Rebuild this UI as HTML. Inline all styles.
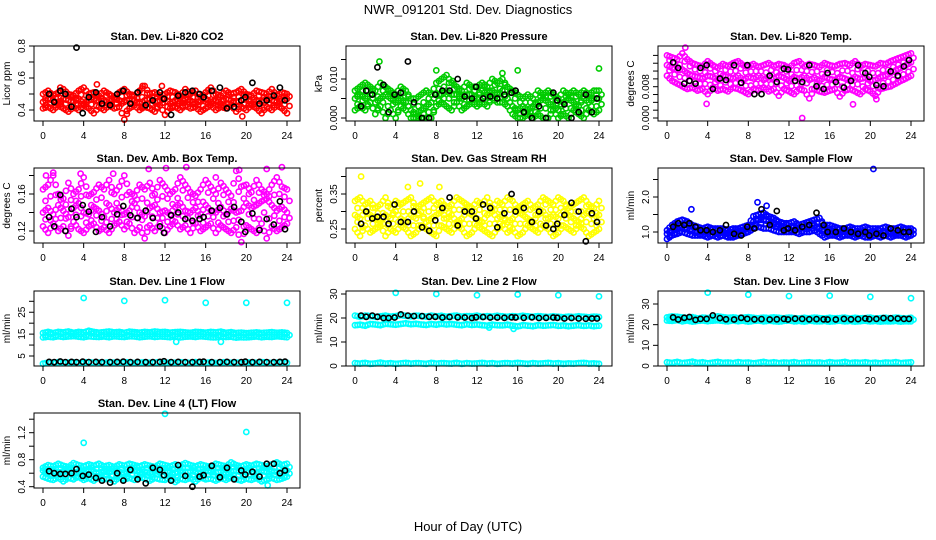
<!DOCTYPE html>
<html><head><meta charset="utf-8"><style>
body{margin:0;background:#fff;}
svg{display:block;font-family:"Liberation Sans",sans-serif;}
</style></head><body>
<svg id="c" width="936" height="540">
<text x="468" y="14" font-size="13" text-anchor="middle">NWR_091201  Std. Dev. Diagnostics</text>
<text x="468" y="531" font-size="13" text-anchor="middle">Hour of Day (UTC)</text>
</svg>
<script>
const hours=[0,0.5,1,1.5,2,2.5,3,3.5,4,4.5,5,5.5,6,6.5,7,7.5,8,8.5,9,9.5,10,10.5,11,11.5,12,12.5,13,13.5,14,14.5,15,15.5,16,16.5,17,17.5,18,18.5,19,19.5,20,20.5,21,21.5,22,22.5,23,23.5,24];
const blackHours=[0.6,1.1,1.7,2.2,2.8,3.3,3.9,4.5,5.2,5.8,6.6,7.3,7.9,8.6,9.3,10.1,10.8,11.5,11.9,12.6,13.3,14.0,14.7,15.4,15.8,16.6,17.4,18.1,18.8,19.5,19.9,20.6,21.3,22.0,22.7,23.3,23.8];
const xTicks=[0,4,8,12,16,20,24];

const p1c1=[0.50,0.52,0.49,0.51,0.53,0.50,0.49,0.52,0.54,0.50,0.51,0.49,0.52,0.50,0.48,0.51,0.53,0.50,0.49,0.52,0.55,0.50,0.51,0.49,0.50,0.52,0.51,0.49,0.53,0.50,0.52,0.48,0.51,0.54,0.50,0.49,0.52,0.50,0.51,0.53,0.50,0.49,0.52,0.51,0.50,0.53,0.49,0.51,0.50];
const p1c2=[0.45,0.47,0.46,0.44,0.47,0.46,0.45,0.47,0.44,0.46,0.47,0.45,0.46,0.44,0.47,0.46,0.45,0.47,0.46,0.44,0.46,0.47,0.45,0.46,0.47,0.44,0.46,0.45,0.47,0.46,0.44,0.46,0.47,0.45,0.46,0.44,0.47,0.46,0.45,0.46,0.47,0.44,0.46,0.45,0.47,0.46,0.45,0.46,0.47];
const p1c3=[0.41,0.42,0.40,0.43,0.41,0.39,0.42,0.40,0.43,0.41,0.38,0.42,0.40,0.43,0.41,0.42,0.34,0.41,0.43,0.40,0.42,0.41,0.39,0.43,0.37,0.41,0.42,0.40,0.43,0.41,0.42,0.39,0.41,0.43,0.40,0.42,0.41,0.43,0.39,0.42,0.40,0.43,0.41,0.38,0.42,0.40,0.43,0.41,0.38];
const p1OutH=[1.7,5.3,9.8,11.7,19.6];
const p1OutV=[0.54,0.56,0.55,0.55,0.36];
const p1Black=[0.50,0.45,0.52,0.50,0.42,0.79,0.38,0.48,0.51,0.44,0.43,0.50,0.52,0.44,0.51,0.43,0.46,0.51,0.47,0.37,0.49,0.51,0.52,0.50,0.48,0.52,0.54,0.41,0.42,0.46,0.48,0.57,0.44,0.46,0.49,0.54,0.46];

const p2c1=[0.007,0.008,0.009,0.008,0.007,0.009,0.008,0.007,0.006,0.008,0.007,0.005,0.005,0.006,0.007,0.006,0.009,0.010,0.011,0.009,0.008,0.007,0.009,0.008,0.008,0.009,0.008,0.010,0.009,0.010,0.008,0.007,0.006,0.005,0.006,0.005,0.007,0.006,0.007,0.006,0.005,0.007,0.006,0.007,0.006,0.007,0.006,0.007,0.007];
const p2c2=[0.005,0.006,0.005,0.006,0.004,0.005,0.006,0.005,0.004,0.005,0.004,0.002,0.001,0.002,0.003,0.004,0.006,0.006,0.007,0.006,0.006,0.005,0.006,0.006,0.005,0.007,0.006,0.007,0.006,0.007,0.005,0.003,0.002,0.003,0.002,0.003,0.004,0.005,0.004,0.003,0.002,0.004,0.005,0.004,0.003,0.005,0.004,0.005,0.005];
const p2c3=[0.002,0.003,0.002,0.004,0.001,0.003,0.000,0.002,0.000,0.003,0.002,0.000,0.000,0.000,0.000,0.000,0.003,0.004,0.003,0.002,0.004,0.002,0.003,0.004,0.003,0.004,0.003,0.005,0.004,0.004,0.003,0.001,0.000,0.000,0.001,0.000,0.001,0.000,0.000,0.002,0.000,0.001,0.000,0.002,0.001,0.000,0.002,0.001,0.002];
const p2OutH=[2.4,8.0,9.6,14.5,16.0,24.0];
const p2OutV=[0.0145,0.0122,0.0095,0.0115,0.0122,0.0127];
const p2Black=[0.003,0.007,0.006,0.013,0.0085,0.0015,0.006,0.0065,0.0145,0.004,0.000,0.000,0.006,0.007,0.007,0.010,0.0055,0.005,0.008,0.005,0.0055,0.005,0.006,0.0065,0.007,0.0015,0.000,0.003,0.000,0.0065,0.0045,0.0035,0.000,0.0015,0.006,0.0015,0.005];

const p3c1=[0.0160,0.0155,0.0150,0.0165,0.0150,0.0140,0.0135,0.0132,0.0145,0.0135,0.0128,0.0138,0.0132,0.0140,0.0145,0.0135,0.0132,0.0138,0.0130,0.0135,0.0140,0.0132,0.0138,0.0135,0.0128,0.0140,0.0145,0.0132,0.0138,0.0135,0.0130,0.0140,0.0135,0.0132,0.0138,0.0140,0.0135,0.0145,0.0132,0.0138,0.0135,0.0132,0.0140,0.0138,0.0145,0.0150,0.0155,0.0160,0.0165];
const p3c2=[0.0135,0.0128,0.0122,0.0124,0.0115,0.0108,0.0105,0.0101,0.0108,0.0105,0.0097,0.0108,0.0105,0.0101,0.0108,0.0097,0.0105,0.0101,0.0108,0.0097,0.0105,0.0101,0.0108,0.0103,0.0095,0.0105,0.0100,0.0108,0.0097,0.0103,0.0095,0.0105,0.0100,0.0097,0.0105,0.0101,0.0095,0.0105,0.0100,0.0103,0.0095,0.0097,0.0105,0.0108,0.0115,0.0122,0.0128,0.0135,0.0142];
const p3c3=[0.0108,0.0095,0.0088,0.0081,0.0074,0.0078,0.0070,0.0074,0.0061,0.0078,0.0070,0.0074,0.0068,0.0078,0.0074,0.0068,0.0061,0.0074,0.0070,0.0078,0.0068,0.0074,0.0057,0.0074,0.0068,0.0061,0.0074,0.0070,0.0050,0.0074,0.0068,0.0065,0.0070,0.0074,0.0055,0.0070,0.0074,0.0068,0.0061,0.0074,0.0068,0.0057,0.0074,0.0078,0.0081,0.0088,0.0095,0.0101,0.0108];
const p3OutH=[1.8,3.9,13.3,18.3,20.6];
const p3OutV=[0.0180,0.0036,0.0,0.0035,0.0048];
const p3Black=[0.0142,0.0128,0.0088,0.0095,0.0088,0.0128,0.0135,0.0074,0.0101,0.0097,0.0135,0.0090,0.0135,0.0061,0.0061,0.0108,0.0092,0.0126,0.0124,0.0095,0.0092,0.0135,0.0081,0.0074,0.0115,0.0092,0.0078,0.0095,0.0135,0.0115,0.0105,0.0084,0.0081,0.0119,0.0108,0.0132,0.0148];

const p4c1=[0.165,0.170,0.180,0.160,0.155,0.172,0.160,0.165,0.178,0.158,0.162,0.170,0.165,0.175,0.160,0.168,0.180,0.162,0.158,0.170,0.165,0.172,0.160,0.175,0.168,0.160,0.165,0.178,0.170,0.162,0.158,0.165,0.175,0.168,0.160,0.172,0.165,0.158,0.185,0.168,0.170,0.162,0.175,0.165,0.160,0.170,0.178,0.168,0.165];
const p4c2=[0.140,0.145,0.138,0.148,0.142,0.135,0.145,0.150,0.140,0.138,0.146,0.142,0.135,0.148,0.140,0.145,0.138,0.142,0.150,0.140,0.136,0.145,0.148,0.140,0.142,0.138,0.146,0.150,0.142,0.140,0.145,0.138,0.148,0.142,0.140,0.146,0.138,0.144,0.140,0.142,0.150,0.145,0.148,0.152,0.155,0.148,0.142,0.146,0.140];
const p4c3=[0.125,0.118,0.128,0.120,0.125,0.115,0.130,0.122,0.118,0.125,0.128,0.120,0.124,0.118,0.126,0.130,0.122,0.128,0.118,0.124,0.112,0.126,0.120,0.128,0.118,0.125,0.130,0.122,0.126,0.118,0.128,0.120,0.124,0.128,0.118,0.126,0.122,0.118,0.124,0.108,0.126,0.122,0.118,0.128,0.112,0.125,0.120,0.124,0.128];
const p4OutH=[0.3,1.0,3.7,6.9,10.4,12.1,14.1,17.0,19.3,22.0,23.5];
const p4OutV=[0.180,0.183,0.182,0.182,0.187,0.188,0.189,0.178,0.186,0.187,0.189];
const p4Black=[0.135,0.125,0.159,0.120,0.144,0.135,0.148,0.141,0.119,0.135,0.125,0.138,0.147,0.137,0.134,0.142,0.134,0.125,0.118,0.137,0.140,0.133,0.131,0.133,0.135,0.142,0.145,0.138,0.146,0.130,0.119,0.139,0.121,0.133,0.127,0.152,0.122];

const p5c1=[0.33,0.34,0.32,0.33,0.31,0.32,0.34,0.31,0.33,0.32,0.33,0.34,0.31,0.32,0.33,0.34,0.32,0.33,0.31,0.32,0.34,0.33,0.32,0.31,0.33,0.32,0.34,0.31,0.33,0.32,0.34,0.33,0.31,0.32,0.33,0.31,0.32,0.34,0.33,0.32,0.34,0.33,0.31,0.32,0.33,0.34,0.32,0.31,0.33];
const p5c2=[0.29,0.28,0.30,0.29,0.28,0.27,0.29,0.28,0.30,0.28,0.27,0.29,0.28,0.30,0.27,0.28,0.29,0.30,0.28,0.29,0.27,0.28,0.30,0.29,0.28,0.27,0.29,0.30,0.28,0.29,0.27,0.28,0.30,0.29,0.28,0.27,0.29,0.30,0.28,0.29,0.28,0.30,0.29,0.28,0.27,0.29,0.30,0.28,0.29];
const p5c3=[0.25,0.23,0.26,0.24,0.25,0.26,0.23,0.25,0.24,0.26,0.25,0.23,0.24,0.26,0.25,0.24,0.23,0.26,0.25,0.24,0.26,0.25,0.23,0.24,0.26,0.25,0.24,0.23,0.25,0.26,0.24,0.25,0.23,0.24,0.26,0.25,0.24,0.26,0.25,0.23,0.24,0.26,0.25,0.24,0.26,0.25,0.23,0.24,0.25];
const p5OutH=[0.6,5.2,6.4,8.3];
const p5OutV=[0.40,0.37,0.38,0.37];
const p5Black=[0.265,0.30,0.28,0.285,0.285,0.265,0.32,0.27,0.27,0.30,0.255,0.245,0.275,0.31,0.34,0.26,0.30,0.30,0.28,0.32,0.31,0.255,0.295,0.35,0.30,0.31,0.27,0.30,0.26,0.25,0.265,0.29,0.325,0.30,0.215,0.295,0.27];

const p6c1=[1.05,1.2,1.3,1.35,1.3,1.2,1.15,1.1,1.15,1.1,1.1,1.1,1.05,1.1,1.1,1.15,1.2,1.45,1.5,1.55,1.45,1.4,1.3,1.25,1.25,1.3,1.2,1.25,1.3,1.35,1.4,1.2,1.2,1.15,1.1,1.1,1.15,1.1,1.1,1.15,1.1,1.1,1.1,1.15,1.1,1.1,1.15,1.1,1.1];
const p6c2=[0.95,1.05,1.1,1.15,1.1,1.05,1.0,1.0,1.0,1.0,0.95,1.0,0.95,1.0,1.0,1.05,1.1,1.3,1.35,1.35,1.3,1.25,1.2,1.15,1.1,1.15,1.1,1.15,1.2,1.2,1.1,1.05,1.0,1.0,1.0,1.0,1.0,0.95,1.0,1.0,0.95,1.0,0.95,1.0,1.0,0.95,1.0,1.0,1.0];
const p6c3=[0.8,0.9,0.95,1.0,0.95,0.9,0.9,0.9,0.85,0.9,0.85,0.9,0.85,0.85,0.9,0.95,1.0,1.1,1.15,1.1,1.1,1.05,1.0,1.0,1.0,1.0,0.95,1.0,1.0,1.05,0.95,0.85,0.9,0.9,0.85,0.9,0.9,0.85,0.9,0.85,0.85,0.9,0.85,0.9,0.85,0.9,0.9,0.85,0.9];
const p6OutH=[2.4,8.9,9.8,20.3];
const p6OutV=[1.65,1.85,1.75,2.8];
const p6Black=[1.15,1.25,1.2,1.25,1.15,1.05,1.05,1.0,1.05,1.2,0.95,0.9,1.15,1.1,1.65,1.2,1.6,1.05,1.1,1.05,1.15,1.2,1.55,1.2,1.0,1.0,1.1,1.0,0.95,1.0,0.9,0.95,0.9,1.1,1.05,1.0,1.0];

const p7c1=[15.5,16,15.5,16,15.8,16.2,15.6,16,15.8,16.5,16,15.7,15.9,16.2,15.8,16,15.6,16.1,15.9,15.7,16,15.8,16.2,15.9,16,15.7,15.9,16,15.8,15.6,16,15.9,15.7,16,15.8,16.1,15.6,15.9,15.5,15.7,15.4,15.6,15.8,15.5,15.7,15.9,15.6,15.8,15.5];
const p7c2=[13.5,13.8,13.6,14,13.7,13.9,14.1,13.8,13.6,14,13.8,13.7,13.9,13.6,14,13.8,13.7,14,13.9,13.6,13.8,14,13.7,13.9,13.8,13.6,14,13.5,13.8,13.9,13.7,14,13.8,13.6,13.5,13.9,13.7,13.8,13.4,13.6,13.5,13.7,13.9,13.6,13.8,13.7,14,13.8,13.6];
const p7c3=[1.5,2,1.8,2.2,1.9,2,2.1,1.8,2,2.2,1.9,2,1.8,2.1,2,1.9,2.2,2,1.8,2,2.1,1.9,2,2.2,1.8,2,1.9,2.1,2,1.8,2.2,2,1.9,2.1,1.8,2,2.2,1.9,2,1.8,2.1,2,1.9,2.2,2,1.8,2,2.1,1.9];
const p7OutH=[4,8,12,13.1,16,17.5,20,24];
const p7OutV=[31.5,30.2,30.5,11.5,29.3,11.5,29.3,29.3];
const p7Black=[2.3,2.2,2.5,2.2,2.3,2.2,2.4,2.2,2.3,2.2,2.2,2.3,2.4,2.2,2.3,2.2,2.2,2.3,2.6,2.2,2.3,2.2,2.2,2.3,2.4,2.2,2.2,2.3,2.2,2.2,2.4,2.2,2.3,2.2,2.2,2.3,2.4];

const p8c1=[21,20.5,21,20.8,20.5,20.7,21,20.6,20.8,21.2,20.9,20.7,21,20.8,20.6,21,20.7,20.9,20.5,20.8,21,20.6,20.8,20.7,21,20.5,20.8,20.6,20.9,20.7,20.5,20.8,20.6,20.9,20.7,20.5,20.8,20.6,20.4,20.7,20.5,20.3,20.6,20.4,20.7,20.5,20.3,20.6,20.4];
const p8c2=[17,17.2,16.8,17.5,17.3,17,17.6,17.4,17.2,17.5,17.8,17.4,17.6,17.3,17.1,17.5,17.2,17.6,17.3,17.5,17.2,17,17.4,17.1,17.3,17,16.8,17.2,17,16.9,17.2,16.8,16.5,17,16.8,16.6,17,16.8,16.9,17.1,16.7,16.9,16.6,16.8,17,16.7,16.9,16.6,16.8];
const p8c3=[1.2,1,1.3,0.9,1.1,1.4,1,1.2,0.9,1.1,1.3,1,1.2,1.1,0.9,1.3,1,1.2,1.1,1,1.3,0.9,1.2,1,1.1,1.3,1,1.2,0.9,1.1,1.2,1,1.3,1.1,0.9,1.2,1,1.1,1.3,1,1.2,0.9,1.1,1,1.2,1.3,1,1.1,0.9];
const p8OutH=[4,8,12,13.2,15.6,16,20,24];
const p8OutV=[30.5,30,29.5,16,15.5,29.8,29.5,29];
const p8Black=[21,20.5,21,20.5,20,20,20.2,21.5,21,20.8,20.8,20.5,20.5,20.2,20.4,20.3,20.2,20,20.3,20.4,20.2,20.2,20.1,20.3,20.2,20.1,20.3,20,20.1,20.2,20.1,19.8,20,19.8,19.7,19.8,19.8];

const p9c1=[23.5,24,23.8,23.5,23.2,23.6,23,23.4,23.2,23.5,24,23.6,23.3,23.5,23.2,23.4,23.6,23.3,23.1,23.4,23.2,23.5,23.3,23.1,23.4,23.2,23,23.3,23.1,23.4,23.2,23,23.3,23.1,23.2,23.4,23,23.3,23.1,23.2,23.4,23,23.2,23.3,23.1,23.4,23.2,23,23.3];
const p9c2=[22,21.8,22.2,21.6,22,21.5,21.8,22,21.7,21.9,22.1,21.8,21.6,22,21.7,21.9,21.5,21.8,22,21.6,21.9,21.7,21.5,21.8,22,21.6,21.8,21.5,21.9,21.7,21.6,21.8,21.5,21.7,21.9,21.6,21.8,21.5,21.7,21.9,21.6,21.8,21.5,21.7,21.6,21.8,21.5,21.7,21.6];
const p9c3=[1.8,1.5,2,1.4,1.7,2.1,1.5,1.8,1.3,1.6,2,1.5,1.7,1.4,1.9,1.5,1.7,1.3,1.6,2,1.5,1.8,1.4,1.7,1.5,1.9,1.4,1.6,1.8,1.5,1.7,1.3,1.9,1.5,1.6,2,1.4,1.7,1.5,1.8,1.4,1.6,1.3,1.7,1.5,1.9,1.4,1.6,1.8];
const p9OutH=[4,8,12,16,20,24];
const p9OutV=[35.5,34.5,33.8,34,33.5,32.8];
const p9Black=[23.5,22.5,23.3,23.7,22.3,22.8,22.8,24.5,23.2,22.6,22.5,23.3,22.8,22.6,22.7,22.5,22.6,22.8,22.5,22.9,22.8,22.6,22.7,22.6,22.5,22.5,22.8,22.6,22.7,23,22.7,22.8,23.2,23.1,23,22.8,22.8];

const p10c1=[0.68,0.72,0.70,0.74,0.71,0.69,0.75,0.72,0.70,0.73,0.71,0.74,0.70,0.72,0.69,0.73,0.71,0.74,0.72,0.70,0.73,0.71,0.69,0.74,0.72,0.70,0.73,0.71,0.75,0.72,0.70,0.73,0.71,0.69,0.74,0.72,0.70,0.76,0.72,0.70,0.73,0.71,0.74,0.72,0.70,0.73,0.76,0.72,0.74];
const p10c2=[0.64,0.60,0.63,0.61,0.62,0.65,0.60,0.63,0.61,0.64,0.62,0.60,0.63,0.61,0.64,0.62,0.60,0.63,0.65,0.61,0.62,0.60,0.64,0.61,0.63,0.62,0.60,0.64,0.61,0.63,0.62,0.60,0.64,0.62,0.61,0.63,0.60,0.62,0.64,0.61,0.63,0.62,0.60,0.64,0.61,0.63,0.62,0.60,0.64];
const p10c3=[0.55,0.52,0.50,0.54,0.48,0.53,0.51,0.55,0.50,0.53,0.49,0.54,0.51,0.52,0.48,0.54,0.51,0.53,0.50,0.55,0.52,0.49,0.53,0.51,0.50,0.54,0.47,0.52,0.50,0.53,0.48,0.54,0.51,0.52,0.49,0.53,0.50,0.54,0.51,0.49,0.52,0.50,0.53,0.48,0.51,0.53,0.50,0.52,0.55];
const p10OutH=[4,12,20,22.1];
const p10OutV=[1.05,1.48,1.21,0.42];
const p10Black=[0.63,0.60,0.59,0.59,0.60,0.66,0.56,0.58,0.53,0.49,0.46,0.60,0.49,0.65,0.51,0.45,0.68,0.65,0.57,0.49,0.72,0.56,0.40,0.55,0.57,0.71,0.54,0.68,0.51,0.64,0.58,0.62,0.55,0.74,0.74,0.60,0.64];

const panels=[
 {name:'li820-co2',title:'Stan. Dev. Li-820 CO2',ylab:'Licor ppm',col:0,row:0,color:'#ff0000',cal:[0.4,110,0.8,46],ticks:[0.4,0.5,0.6,0.7,0.8],labels:{'0.4':'0.4','0.6':'0.6','0.8':'0.8'},c:[p1c1,p1c2,p1c3],fill:2,oh:p1OutH,ov:p1OutV,b:p1Black},
 {name:'li820-pressure',title:'Stan. Dev. Li-820 Pressure',ylab:'kPa',col:1,row:0,color:'#00cc00',cal:[0,118,0.010,79],ticks:[0,0.005,0.010,0.015],labels:{'0':'0.000','0.01':'0.010'},c:[p2c1,p2c2,p2c3],fill:2,oh:p2OutH,ov:p2OutV,b:p2Black},
 {name:'li820-temp',title:'Stan. Dev. Li-820 Temp.',ylab:'degrees C',col:2,row:0,color:'#ff00ff',cal:[0,118,0.008,86.7],ticks:[0,0.002,0.004,0.006,0.008,0.010,0.012,0.014,0.016],labels:{'0':'0.000','0.008':'0.008'},c:[p3c1,p3c2,p3c3],fill:2,oh:p3OutH,ov:p3OutV,b:p3Black},
 {name:'amb-box-temp',title:'Stan. Dev. Amb. Box Temp.',ylab:'degrees C',col:0,row:1,color:'#ff00ff',cal:[0.12,231,0.16,194],ticks:[0.12,0.14,0.16,0.18],labels:{'0.12':'0.12','0.16':'0.16'},c:[p4c1,p4c2,p4c3],fill:2,oh:p4OutH,ov:p4OutV,b:p4Black},
 {name:'gas-stream-rh',title:'Stan. Dev. Gas Stream RH',ylab:'percent',col:1,row:1,color:'#ffff00',cal:[0.25,229,0.35,194],ticks:[0.25,0.30,0.35,0.40],labels:{'0.25':'0.25','0.35':'0.35'},c:[p5c1,p5c2,p5c3],fill:2,oh:p5OutH,ov:p5OutV,b:p5Black},
 {name:'sample-flow',title:'Stan. Dev. Sample Flow',ylab:'ml/min',col:2,row:1,color:'#0000ff',cal:[1.0,232,2.0,197],ticks:[1.0,1.5,2.0,2.5],labels:{'1':'1.0','2':'2.0'},c:[p6c1,p6c2,p6c3],fill:2,oh:p6OutH,ov:p6OutV,b:p6Black},
 {name:'line1-flow',title:'Stan. Dev. Line 1 Flow',ylab:'ml/min',col:0,row:2,color:'#00ffff',cal:[5,356,30,301.3],ticks:[5,10,15,20,25,30],labels:{'5':'5','15':'15','25':'25'},c:[p7c1,p7c2,p7c3],fill:1,oh:p7OutH,ov:p7OutV,b:p7Black},
 {name:'line2-flow',title:'Stan. Dev. Line 2 Flow',ylab:'ml/min',col:1,row:2,color:'#00ffff',cal:[0,366,30,294],ticks:[0,10,20,30],labels:{'0':'0','10':'10','20':'20','30':'30'},c:[p8c1,p8c2,p8c3],fill:0,oh:p8OutH,ov:p8OutV,b:p8Black},
 {name:'line3-flow',title:'Stan. Dev. Line 3 Flow',ylab:'ml/min',col:2,row:2,color:'#00ffff',cal:[0,366,30,304],ticks:[0,10,20,30],labels:{'0':'0','10':'10','20':'20','30':'30'},c:[p9c1,p9c2,p9c3],fill:1,oh:p9OutH,ov:p9OutV,b:p9Black},
 {name:'line4-flow',title:'Stan. Dev. Line 4 (LT) Flow',ylab:'ml/min',col:0,row:3,color:'#00ffff',cal:[0.4,486.7,1.2,432.7],ticks:[0.4,0.6,0.8,1.0,1.2,1.4],labels:{'0.4':'0.4','0.8':'0.8','1.2':'1.2'},c:[p10c1,p10c2,p10c3],fill:2,oh:p10OutH,ov:p10OutV,b:p10Black}
];
const NS='http://www.w3.org/2000/svg';
const svg=document.getElementById('c');
const colLeft=[34,346,658], rowTop=[46,168,291,413], W=266, H=75;
function mk(tag,attrs,parent){const e=document.createElementNS(NS,tag);for(const k in attrs)e.setAttribute(k,attrs[k]);parent.appendChild(e);return e;}
panels.forEach(p=>{
  const L=colLeft[p.col], T=rowTop[p.row];
  const xs=h=>L+9+h*(244/24);
  const ys=v=>p.cal[1]+(v-p.cal[0])*(p.cal[3]-p.cal[1])/(p.cal[2]-p.cal[0]);
  const g=mk('g',{},svg);
  
  
  const t=mk('text',{x:L+W/2,y:T-6,'font-size':'11','font-weight':'bold','text-anchor':'middle'},g);
  t.textContent=p.title;
  
  
  const yl=mk('text',{transform:`translate(${L-24},${T+H/2}) rotate(-90)`,'font-size':'10','text-anchor':'middle'},g);
  yl.textContent=p.ylab;
  
  
  const drawPt=(h,v,col)=>{const c=mk('circle',{cx:xs(h).toFixed(1),cy:ys(v).toFixed(1),r:2.6,fill:'none',stroke:col,'stroke-width':1.6},g);
    
    };
  const [a,b,c]=p.c;
  p.c.forEach(arr=>{arr.forEach((v,i)=>{if(i<hours.length)drawPt(hours[i],v,p.color);});});
  p.c.forEach(arr=>{arr.forEach((v,i)=>{if(i+1<hours.length)drawPt((hours[i]+hours[i+1])/2,(v+arr[i+1])/2,p.color);});});
  [[a,b],[b,c]].slice(0,p.fill).forEach(([u,w])=>{u.forEach((v,i)=>{if(i<hours.length&&i<w.length){
    drawPt(hours[i]+0.25,(v+w[i])/2,p.color);}});});
  p.oh.forEach((h,i)=>drawPt(h,p.ov[i],p.color));
  p.b.forEach((v,i)=>{if(i<blackHours.length)drawPt(blackHours[i],v,'#000');});
  const box=mk('rect',{x:L,y:T,width:W,height:H,fill:'none',stroke:'#000','stroke-width':1},g);
  
  
  xTicks.forEach(h=>{mk('line',{x1:xs(h),x2:xs(h),y1:T+H,y2:T+H+5,stroke:'#000'},g);
    const tx=mk('text',{x:xs(h),y:T+H+18,'font-size':'10','text-anchor':'middle'},g);tx.textContent=h;
    
    });
  p.ticks.forEach(v=>{const y=ys(v);mk('line',{x1:L-5,x2:L,y1:y,y2:y,stroke:'#000'},g);
    const key=String(+v.toFixed(4));
    if(p.labels[key]!==undefined){const tl=mk('text',{transform:`translate(${L-9},${y}) rotate(-90)`,'font-size':'10','text-anchor':'middle'},g);tl.textContent=p.labels[key];
      
      }});
});
</script>
</body></html>
